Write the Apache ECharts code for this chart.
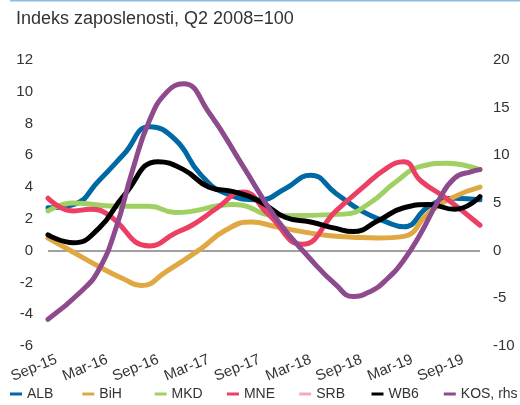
<!DOCTYPE html>
<html>
<head>
<meta charset="utf-8">
<script src="https://cdn.jsdelivr.net/npm/echarts@6/dist/echarts.min.js"></script>
<style>
  html, body { margin: 0; padding: 0; background: #fff; }
  #chart { width: 520px; height: 405px; }
</style>
</head>
<body>
<div id="chart"></div>
<script>
var months = [
	'Aug-15', 'Sep-15', 'Oct-15', 'Nov-15', 'Dec-15',
	'Jan-16', 'Feb-16', 'Mar-16', 'Apr-16', 'May-16', 'Jun-16', 'Jul-16', 'Aug-16', 'Sep-16', 'Oct-16', 'Nov-16', 'Dec-16',
	'Jan-17', 'Feb-17', 'Mar-17', 'Apr-17', 'May-17', 'Jun-17', 'Jul-17', 'Aug-17', 'Sep-17', 'Oct-17', 'Nov-17', 'Dec-17',
	'Jan-18', 'Feb-18', 'Mar-18', 'Apr-18', 'May-18', 'Jun-18', 'Jul-18', 'Aug-18', 'Sep-18', 'Oct-18', 'Nov-18', 'Dec-18',
	'Jan-19', 'Feb-19', 'Mar-19', 'Apr-19', 'May-19', 'Jun-19', 'Jul-19', 'Aug-19', 'Sep-19', 'Oct-19', 'Nov-19'
];

// values at the months where the curves turn
var alb = [['Aug-15', 2.7], ['Nov-15', 2.9], ['Feb-16', 4.4], ['May-16', 6.1], ['Aug-16', 7.8], ['Nov-16', 7.0],
	['Feb-17', 4.8], ['May-17', 3.6], ['Sep-17', 3.2], ['Dec-17', 3.9], ['Mar-18', 4.75], ['Jun-18', 3.6],
	['Sep-18', 2.5], ['Dec-18', 1.8], ['Feb-19', 1.5], ['May-19', 2.8], ['Aug-19', 3.3], ['Nov-19', 3.2]];
var bih = [['Aug-15', 0.8], ['Nov-15', -0.1], ['Feb-16', -1.0], ['May-16', -1.8], ['Jul-16', -2.2], ['Oct-16', -1.3],
	['Feb-17', 0.1], ['May-17', 1.3], ['Aug-17', 1.8], ['Nov-17', 1.5], ['Feb-18', 1.2], ['May-18', 0.95],
	['Aug-18', 0.85], ['Nov-18', 0.8], ['Feb-19', 0.9], ['May-19', 2.4], ['Aug-19', 3.4], ['Nov-19', 4.0]];
var mkd = [['Aug-15', 2.5], ['Nov-15', 3.0], ['Apr-16', 2.8], ['Aug-16', 2.8], ['Nov-16', 2.4], ['Jun-17', 2.9],
	['Nov-17', 2.2], ['Jul-18', 2.3], ['Oct-18', 3.0], ['Jan-19', 4.3], ['Apr-19', 5.3], ['Jul-19', 5.5], ['Nov-19', 5.1]];
var mne = [['Aug-15', 3.3], ['Nov-15', 2.5], ['Jan-16', 2.6], ['Mar-16', 2.3], ['Aug-16', 0.3], ['Nov-16', 1.1],
	['Jan-17', 1.6], ['Apr-17', 2.7], ['Jul-17', 3.7], ['Oct-17', 2.3], ['Feb-18', 0.4], ['Jun-18', 2.5],
	['Sep-18', 3.9], ['Dec-18', 5.2], ['Feb-19', 5.6], ['Apr-19', 4.4], ['Jul-19', 3.3], ['Nov-19', 1.6]];
var srb = [];
var wb6 = [['Aug-15', 1.0], ['Nov-15', 0.5], ['Feb-16', 1.4], ['May-16', 3.5], ['Sep-16', 5.6], ['Dec-16', 5.1],
	['Mar-17', 4.0], ['Jun-17', 3.7], ['Sep-17', 3.1], ['Dec-17', 2.1], ['Mar-18', 1.8], ['Jun-18', 1.4],
	['Aug-18', 1.2], ['Nov-18', 1.9], ['Feb-19', 2.7], ['May-19', 2.9], ['Aug-19', 2.6], ['Nov-19', 3.4]];
var kos = [['Aug-15', -7.2], ['Dec-15', -4.2], ['Feb-16', -2.0], ['Apr-16', 2.3], ['Jun-16', 8.5], ['Aug-16', 13.7],
	['Oct-16', 16.6], ['Dec-16', 17.5], ['Mar-17', 14.5], ['Jul-17', 8.9], ['Nov-17', 3.3], ['Mar-18', -0.9],
	['Jun-18', -3.6], ['Aug-18', -4.8], ['Oct-18', -4.3], ['Dec-18', -3.0], ['Feb-19', -1.0], ['Apr-19', 1.8],
	['Jun-19', 5.1], ['Aug-19', 7.6], ['Oct-19', 8.3], ['Nov-19', 8.5]];

var seriesNames = ['ALB', 'BiH', 'MKD', 'MNE', 'SRB', 'WB6', 'KOS, rhs'];
var seriesColors = ['#0068a4', '#e0a843', '#a0cf62', '#ec3f64', '#f2a8ca', '#000000', '#8d4a8c'];
var seriesData = [alb, bih, mkd, mne, srb, wb6, kos];

var leftTicks = { min: -6, max: 12, interval: 2 };
var rightTicks = { min: -10, max: 20, interval: 5 };

var myEchats;
var textColor = '#333';
var axisFont = '"Liberation Sans", sans-serif';

function buildSeries()
{
	var list = [];
	for (var i = 0; i < seriesNames.length; i++) {
		var s = {
			name: seriesNames[i],
			type: 'line',
			yAxisIndex: i == 6 ? 1 : 0,
			data: seriesData[i],
			smooth: 0.5,
			showSymbol: false,
			symbol: 'none',
			color: seriesColors[i],
			lineStyle: { width: 5, color: seriesColors[i], cap: 'round' },
			z: 2 + i
		};
		if (i == 0) {
			// zero line
			s.markLine = {
				silent: true,
				symbol: 'none',
				label: { show: false },
				lineStyle: { color: '#808080', width: 1.5, type: 'solid' },
				data: [{ yAxis: 0 }],
				z: 1
			};
		}
		list.push(s);
	}
	return list;
}

// one legend per item so the items sit on an even pitch like the original
function buildLegends()
{
	var list = [];
	for (var i = 0; i < seriesNames.length; i++) {
		list.push({
			left: 10 + i * 72.3,
			top: 387,
			padding: 0,
			icon: 'rect',
			itemWidth: 12,
			itemHeight: 3,
			data: [seriesNames[i]],
			textStyle: { fontSize: 14, color: textColor, fontFamily: axisFont }
		});
	}
	return list;
}

function initOptions()
{
	var echartOptions = {
		animation: false,
		title: {
			text: 'Indeks zaposlenosti, Q2 2008=100',
			left: 11,
			top: 5,
			textStyle: { fontSize: 18, fontWeight: 'normal', color: textColor, fontFamily: axisFont }
		},
		graphic: [{
			type: 'rect',
			left: 10,
			top: 0,
			shape: { width: 510, height: 1.5 },
			style: { fill: '#8cbcdf' }
		}],
		legend: buildLegends(),
		grid: { left: 48, right: 40, top: 60, bottom: 59 },
		xAxis: {
			type: 'category',
			data: months,
			boundaryGap: false,
			axisLine: { show: false, onZero: false },
			axisTick: { show: false },
			splitLine: { show: false },
			axisLabel: {
				rotate: 22,
				margin: 13,
				fontSize: 15,
				color: textColor,
				fontFamily: axisFont,
				interval: function (index) { return index % 6 === 1; }
			}
		},
		yAxis: [{
			type: 'value',
			min: leftTicks.min,
			max: leftTicks.max,
			interval: leftTicks.interval,
			axisLine: { show: false },
			axisTick: { show: false },
			splitLine: { show: false },
			axisLabel: { margin: 15, fontSize: 15, color: textColor, fontFamily: axisFont }
		}, {
			type: 'value',
			min: rightTicks.min,
			max: rightTicks.max,
			interval: rightTicks.interval,
			axisLine: { show: false },
			axisTick: { show: false },
			splitLine: { show: false },
			axisLabel: { margin: 13, fontSize: 15, color: textColor, fontFamily: axisFont }
		}],
		series: buildSeries()
	};

	myEchats.setOption(echartOptions, true);
}

function createEcharts(divId)
{
	myEchats = echarts.init(document.getElementById(divId), null, { renderer: 'canvas' });
	initOptions();
	return myEchats;
}

createEcharts('chart');
</script>
</body>
</html>
